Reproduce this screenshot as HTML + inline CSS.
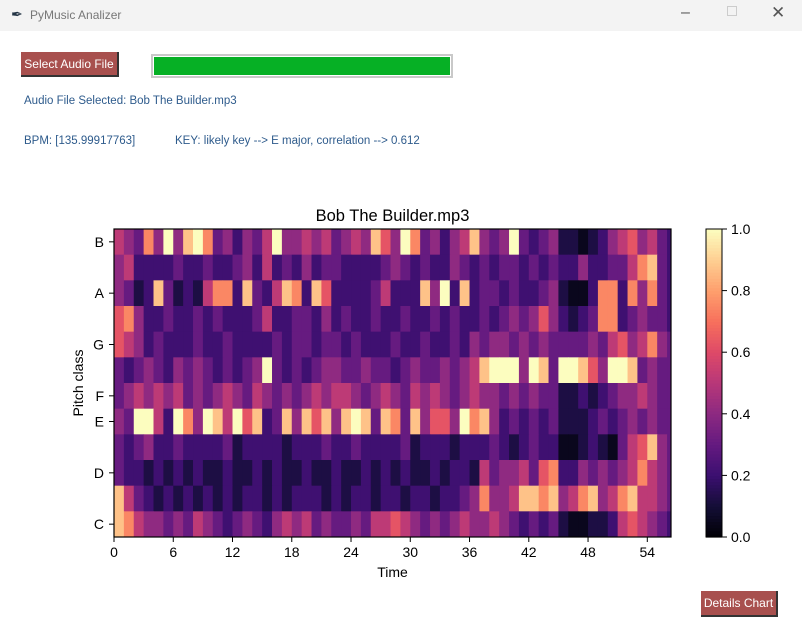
<!DOCTYPE html>
<html><head><meta charset="utf-8"><style>
body{margin:0;width:802px;height:632px;overflow:hidden;background:#fff;font-family:"Liberation Sans",sans-serif;position:relative}
.tb{position:absolute;left:0;top:0;width:802px;height:31px;background:#f3f3f3}
.abs{position:absolute}
.btn{position:absolute;background:#a8504e;color:#fff;font-size:12px;line-height:24px;text-align:center;border-right:2px solid #333;border-bottom:2px solid #333;box-sizing:border-box}
.lbl{position:absolute;color:#2e5b8c;font-size:11.5px}
</style></head><body>
<div class="tb">
<span class="abs" style="left:11px;top:6px;font-size:14px;color:#234">&#x2712;</span>
<span class="abs" style="left:30px;top:8px;font-size:12px;color:#777">PyMusic Analizer</span>
<span class="abs" style="left:681px;top:4px;font-size:16px;color:#555">&#8211;</span>
<span class="abs" style="left:727px;top:6px;width:8px;height:8px;border:1px solid #ccc"></span>
<span class="abs" style="left:771px;top:3px;font-size:17px;color:#555">&#x2715;</span>
</div>
<div class="btn" style="left:21px;top:52px;width:98px;height:25px">Select Audio File</div>
<div class="abs" style="left:151px;top:54px;width:296px;height:18px;border:2px solid #c9c9c9;padding:1px;"><div style="width:100%;height:100%;background:#06b025"></div></div>
<div class="lbl" style="left:24px;top:95px">Audio File Selected: Bob The Builder.mp3</div>
<div class="lbl" style="left:24px;top:135px">BPM: [135.99917763]</div>
<div class="lbl" style="left:175px;top:135px">KEY: likely key --&gt; E major, correlation --&gt; 0.612</div>
<div class="btn" style="left:701px;top:591px;width:77px;height:26px">Details Chart</div>
<svg id="chart" class="abs" style="left:0;top:0" width="802" height="632"></svg>
<script>
const rowLabels=["B","A#","A","G#","G","F#","F","E","D#","D","C#","C"];
const xTicks=[0,6,12,18,24,30,36,42,48,54];
const yTickNames=["B","A","G","F","E","D","C"];
const cbTicks=[0.0,0.2,0.4,0.6,0.8,1.0];
const rowB=[6,5,4,8,5,10,5,9,10,8,4,5,3,5,4,6,10,5,5,6,5,6,4,5,6,5,9,7,5,10,8,4,5,3,5,6,9,5,4,5,10,4,3,4,5,2,2,1,2,3,5,6,7,5,6,4,3];
const rowAs=[5,6,3,3,3,3,4,3,3,4,3,3,4,5,3,6,3,4,3,5,3,4,4,3,3,3,3,4,5,4,3,4,3,3,5,4,3,4,3,4,4,3,4,3,4,3,3,5,3,3,4,4,6,8,9,4,3];
const rowA=[5,4,2,3,9,4,2,3,2,6,8,8,3,9,4,3,6,9,8,3,9,7,3,3,3,3,4,6,3,3,3,9,5,10,3,9,3,4,4,3,4,3,3,4,5,2,1,1,3,8,8,3,8,5,8,4,3];
const rowGs=[7,8,5,3,3,4,3,3,4,3,4,3,3,3,4,6,3,3,4,4,3,5,3,4,3,3,4,3,3,4,3,3,4,3,4,3,3,4,3,4,5,4,5,7,5,3,2,3,4,8,8,3,4,5,4,4,3];
const rowG=[7,6,5,3,4,3,3,3,4,3,3,4,3,3,3,3,4,3,4,4,3,4,4,3,4,3,3,3,4,3,3,4,3,3,4,3,5,4,5,5,4,5,4,5,4,4,4,4,5,4,6,7,5,6,8,5,4];
const rowFs=[4,3,4,5,4,3,5,4,5,4,3,4,3,4,5,10,4,3,4,3,4,5,5,4,4,5,4,4,3,4,5,4,4,5,4,5,6,9,10,10,10,5,10,9,4,10,10,9,7,5,10,10,9,4,5,4,4];
const rowF=[4,5,6,5,6,5,6,4,5,4,5,6,5,4,6,5,4,5,4,5,6,5,6,6,5,4,5,6,5,4,6,5,6,5,4,5,6,5,5,4,5,4,5,4,4,2,2,3,2,3,4,5,5,6,5,4,4];
const rowE=[5,4,10,10,6,3,10,8,5,10,9,6,10,7,9,3,4,9,5,9,7,9,5,9,10,9,4,9,8,4,9,5,7,7,5,10,8,9,5,3,4,3,4,3,4,2,2,2,3,4,3,4,5,4,5,4,4];
const rowDs=[4,3,4,5,3,3,4,3,3,3,3,4,2,3,3,3,3,2,3,3,3,4,3,3,4,3,3,3,3,4,2,3,3,3,2,3,3,3,4,3,2,3,4,3,3,1,1,2,3,2,1,4,6,7,9,5,4];
const rowD=[4,3,3,2,3,2,3,2,3,2,2,3,2,2,3,2,3,2,2,3,2,2,3,2,2,3,2,3,2,3,2,2,3,2,3,3,2,6,4,5,5,6,4,7,8,3,3,5,4,5,4,5,6,8,6,5,4];
const rowCs=[9,6,4,3,2,3,2,3,2,3,2,3,2,3,3,2,3,2,3,3,3,2,3,2,3,3,2,3,3,2,3,3,2,3,3,4,5,8,5,5,6,9,9,8,9,5,6,8,9,5,6,8,9,6,6,5,4];
const rowC=[9,8,6,5,5,4,5,4,6,5,4,3,4,5,4,3,5,6,5,6,4,5,4,4,5,4,6,6,7,6,5,4,5,4,5,6,5,5,6,5,4,3,4,3,4,2,1,1,2,2,3,6,7,6,5,4,3];
const rows=[rowB,rowAs,rowA,rowGs,rowG,rowFs,rowF,rowE,rowDs,rowD,rowCs,rowC];
const tMax=56.4, cbX=706, cbW=16;
const L=114,R=671,T=229,B=537;
const xs=t=>L+(t/tMax)*(R-L);
const ys=i=>T+i*(B-T)/12;
const cbY=v=>B-v*(B-T);
const cscale=v=>Math.pow(v/10,1.3);
const stops=[[0,0,4],[20,14,54],[59,15,112],[100,26,128],[140,41,129],[183,55,121],[222,73,104],[247,112,92],[254,159,109],[254,207,146],[252,253,191]];
function magma(v){v=Math.max(0,Math.min(1,v));const p=v*10,i=Math.min(9,Math.floor(p)),f=p-i;const a=stops[i],b=stops[i+1];return`rgb(${a.map((c,k)=>Math.round(c+(b[k]-c)*f)).join(',')})`;}
const svg=document.getElementById('chart');const NS='http://www.w3.org/2000/svg';
function mk(tag,at,txt){const e=document.createElementNS(NS,tag);for(const k in at)e.setAttribute(k,at[k]);if(txt!=null)e.textContent=txt;svg.appendChild(e);return e;}
const defs=mk('defs',{});const cp=document.createElementNS(NS,'clipPath');cp.setAttribute('id','clip');const cr=document.createElementNS(NS,'rect');cr.setAttribute('x',L);cr.setAttribute('y',T);cr.setAttribute('width',R-L);cr.setAttribute('height',B-T);cp.appendChild(cr);defs.appendChild(cp);
const g=mk('g',{'clip-path':'url(#clip)'});
rows.forEach((row,i)=>{row.forEach((v,j)=>{const r=document.createElementNS(NS,'rect');
r.setAttribute('x',xs(j));r.setAttribute('y',ys(i));r.setAttribute('width',xs(j+1)-xs(j)+0.5);r.setAttribute('height',ys(i+1)-ys(i)+0.5);r.setAttribute('fill',magma(cscale(v)));


g.appendChild(r);});});
const frame=mk('rect',{x:L,y:T,width:R-L,height:B-T,fill:'none',stroke:'#000','stroke-width':1.2});


xTicks.forEach(t=>{mk('line',{x1:xs(t),x2:xs(t),y1:B,y2:B+5,stroke:'#000'});const tx=mk('text',{x:xs(t),y:B+20,'text-anchor':'middle','font-size':14},t);

});
yTickNames.forEach(n=>{const i=rowLabels.indexOf(n);const y=(ys(i)+ys(i+1))/2;mk('line',{x1:L-5,x2:L,y1:y,y2:y,stroke:'#000'});const tx=mk('text',{x:L-10,y:y+5,'text-anchor':'end','font-size':14},n);

});
const title=mk('text',{x:(L+R)/2,y:221,'text-anchor':'middle','font-size':16.5},'Bob The Builder.mp3');


const xt=mk('text',{x:(L+R)/2,y:577,'text-anchor':'middle','font-size':14},'Time');


const yt=mk('text',{x:0,y:0,'text-anchor':'middle','font-size':14,transform:`translate(83,${(T+B)/2}) rotate(-90)`},'Pitch class');


for(let k=0;k<100;k++){mk('rect',{x:cbX,y:cbY((k+1)/100),width:cbW,height:(B-T)/100+0.6,fill:magma((k+0.5)/100)});}
const cbf=mk('rect',{x:cbX,y:T,width:cbW,height:B-T,fill:'none',stroke:'#000','stroke-width':1});


cbTicks.forEach(v=>{mk('line',{x1:cbX+cbW,x2:cbX+cbW+5,y1:cbY(v),y2:cbY(v),stroke:'#000'});const tx=mk('text',{x:cbX+cbW+9,y:cbY(v)+5,'font-size':14},v.toFixed(1));

});
</script>
</body></html>
